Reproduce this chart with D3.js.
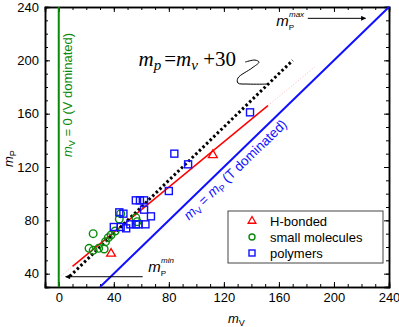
<!DOCTYPE html>
<html>
<head>
<meta charset="utf-8">
<script src="https://cdn.jsdelivr.net/npm/d3@7"></script>
<style>
  body { margin: 0; background: #fff; }
  svg { font-family: Arial, "Liberation Sans", sans-serif; }
</style>
</head>
<body>
<svg id="chart" width="399" height="327"></svg>
<script>
// values
var hBonded = [[38, 55], [112, 129]];
var smallMolecules = [[22, 59], [25, 57.5], [29, 59], [33, 58.5], [34, 64], [36, 67], [38, 69], [41, 72],
	[25, 70], [45, 85], [44, 81], [56, 82], [57, 79]];
var polymers = [[40, 75], [45, 75], [49, 74], [52, 77], [56, 77], [58, 77], [63, 77], [44, 86], [47, 85],
	[56, 95], [59, 95], [62, 95], [62, 88], [67, 83], [80, 102], [84, 130], [94, 122], [139, 161]];
var fitLine = [[10, 45.5], [152, 166]];
var fitExtLow = [[0, 37], [10, 45.5]];
var fitExtHigh = [[152, 166], [186, 195]];
var offsetLine = [[8, 38], [170, 200]];      // m_p = m_v + 30
var equalLine = [[30, 30], [240, 240]];      // m_v = m_p
var xTicks = [0, 40, 80, 120, 160, 200, 240];
var yTicks = [40, 80, 120, 160, 200, 240];
var legendItems = ["H-bonded", "small molecules", "polymers"];
var squiggle = [[135.5, 198.7], [142.6, 200.2], [145.5, 198.7], [140.4, 194.2], [130.2, 186.7],
	[130.2, 183], [137.5, 182.2], [151.3, 182.2]];

var margin = {top: 7, right: 10, bottom: 40, left: 45};
var width = 389 - margin.left, height = 287 - margin.top;

var svg = d3.select("#chart");
var g = svg.append("g").attr("transform", "translate(" + margin.left + "," + margin.top + ")");

var x = d3.scaleLinear().domain([-10, 240]).range([0, width]);
var y = d3.scaleLinear().domain([30, 240]).range([height, 0]);
var line = d3.line().x(function(d) { return x(d[0]); }).y(function(d) { return y(d[1]); });

svg.append("defs").append("marker")
	.attr("id", "arrow")
	.attr("viewBox", "0 0 10 10")
	.attr("refX", 9).attr("refY", 5)
	.attr("markerWidth", 6).attr("markerHeight", 5)
	.attr("markerUnits", "userSpaceOnUse")
	.attr("orient", "auto")
  .append("path").attr("d", "M0,0 L10,5 L0,10 Z").attr("fill", "#000");

// axes: minor + major ticks on all four sides, pointing in
function drawAxis(axisFn, scale, values, size, transform, labels) {
	var a = g.append("g").attr("transform", transform)
		.call(axisFn(scale).tickValues(values).tickSize(size).tickPadding(6)
			.tickFormat(labels ? d3.format("d") : ""));
	a.select(".domain").attr("stroke-width", 1.5);
	a.selectAll("text").attr("font-size", 13).attr("fill", "#000")
		.attr("font-family", "Arial, 'Liberation Sans', sans-serif");
	return a;
}
var xMinor = d3.range(-10, 241, 10), yMinor = d3.range(30, 241, 10);
drawAxis(d3.axisBottom, x, xMinor, -3, "translate(0," + height + ")", false);
drawAxis(d3.axisBottom, x, xTicks, -5, "translate(0," + height + ")", true);
drawAxis(d3.axisTop, x, xMinor, -3, "translate(0,0)", false);
drawAxis(d3.axisTop, x, xTicks, -5, "translate(0,0)", false);
drawAxis(d3.axisLeft, y, yMinor, -3, "translate(0,0)", false);
drawAxis(d3.axisLeft, y, yTicks, -5, "translate(0,0)", true);
drawAxis(d3.axisRight, y, yMinor, -3, "translate(" + width + ",0)", false);
drawAxis(d3.axisRight, y, yTicks, -5, "translate(" + width + ",0)", false);

// reference lines
g.append("line")
	.attr("x1", x(0)).attr("x2", x(0)).attr("y1", y(30)).attr("y2", y(240))
	.attr("stroke", "#0a8a0a").attr("stroke-width", 2);
g.append("path").datum(equalLine).attr("d", line)
	.attr("stroke", "#1010ff").attr("stroke-width", 2).attr("fill", "none");
g.selectAll(".fit-ext").data([fitExtLow, fitExtHigh]).enter().append("path")
	.attr("d", line).attr("stroke", "#f66").attr("stroke-opacity", 0.5)
	.attr("stroke-dasharray", "1,2").attr("fill", "none");
g.append("path").datum(fitLine).attr("d", line)
	.attr("stroke", "#f00").attr("stroke-width", 1.5).attr("fill", "none");
g.append("path").datum(offsetLine).attr("d", line)
	.attr("stroke", "#000").attr("stroke-width", 3).attr("stroke-dasharray", "2.5,2.5").attr("fill", "none");

// data
g.selectAll(".hb").data(hBonded).enter().append("path")
	.attr("transform", function(d) { return "translate(" + x(d[0]) + "," + y(d[1]) + ")"; })
	.attr("d", d3.symbol(d3.symbolTriangle, 34))
	.attr("fill", "none").attr("stroke", "#f00").attr("stroke-width", 1.3);
g.selectAll(".sm").data(smallMolecules).enter().append("circle")
	.attr("cx", function(d) { return x(d[0]); })
	.attr("cy", function(d) { return y(d[1]); })
	.attr("r", 3.8)
	.attr("fill", "none").attr("stroke", "#0a8a0a").attr("stroke-width", 1.4);
g.selectAll(".poly").data(polymers).enter().append("rect")
	.attr("x", function(d) { return x(d[0]) - 3.5; })
	.attr("y", function(d) { return y(d[1]) - 3.5; })
	.attr("width", 7).attr("height", 7)
	.attr("fill", "none").attr("stroke", "#1010ff").attr("stroke-width", 1.4);

// annotations
var formula = g.append("text")
	.attr("x", x(58)).attr("y", y(196.5) + 0.5)
	.style("font-family", "'Times New Roman', 'Liberation Serif', serif")
	.attr("font-size", 21).attr("fill", "#000");
formula.append("tspan").attr("font-style", "italic").text("m");
formula.append("tspan").attr("font-style", "italic").attr("font-size", 15).attr("dy", 4).text("p");
formula.append("tspan").attr("dy", -4).attr("dx", 3).text("=");
formula.append("tspan").attr("font-style", "italic").text("m");
formula.append("tspan").attr("font-style", "italic").attr("font-size", 15).attr("dy", 4).text("v");
formula.append("tspan").attr("dy", -4).text(" +30");

g.append("path").datum(squiggle)
	.attr("d", line.curve(d3.curveCatmullRom.alpha(0.5)))
	.attr("stroke", "#000").attr("stroke-width", 1).attr("fill", "none");
line.curve(d3.curveLinear);

g.append("text")
	.attr("transform", "translate(" + (x(8.7) + 1) + "," + y(174) + ") rotate(-90)")
	.attr("text-anchor", "middle").attr("font-size", 13).attr("fill", "#0a8a0a")
	.call(function(t) {
		t.append("tspan").attr("font-style", "italic").text("m");
		t.append("tspan").attr("font-size", 9).attr("dy", 3).text("V");
		t.append("tspan").attr("dy", -3).text(" = 0 (V dominated)");
	});

g.append("text")
	.attr("transform", "translate(" + x(130.5) + "," + y(115.5) + ") rotate(-44)")
	.attr("text-anchor", "middle").attr("font-size", 13.5).attr("fill", "#1010ff")
	.call(function(t) {
		t.append("tspan").attr("font-style", "italic").text("m");
		t.append("tspan").attr("font-size", 9).attr("dy", 3).text("V");
		t.append("tspan").attr("dy", -3).text(" = ");
		t.append("tspan").attr("font-style", "italic").text("m");
		t.append("tspan").attr("font-size", 9).attr("dy", 3).text("P");
		t.append("tspan").attr("dy", -3).text(" (T dominated)");
	});

// m_p max / min arrows
g.append("line")
	.attr("x1", x(181)).attr("x2", x(223)).attr("y1", y(231.5)).attr("y2", y(231.5))
	.attr("stroke", "#000").attr("stroke-width", 1).attr("marker-end", "url(#arrow)");
g.append("line")
	.attr("x1", x(61)).attr("x2", x(5)).attr("y1", y(37.7)).attr("y2", y(37.7))
	.attr("stroke", "#000").attr("stroke-width", 1).attr("marker-end", "url(#arrow)");

function mpLabel(px, py, sup) {
	var t = g.append("text").attr("x", px).attr("y", py).attr("font-size", 15).attr("fill", "#000");
	t.append("tspan").attr("font-style", "italic").text("m");
	t.append("tspan").attr("font-size", 8).attr("dy", 4).text("P");
	t.append("tspan").attr("font-size", 8).attr("font-style", "italic").attr("dx", -5).attr("dy", -13).text(sup);
}
mpLabel(x(158), y(225.5), "max");
mpLabel(x(65), y(41.5), "min");

// axis titles
svg.append("text").attr("x", 228).attr("y", 323).attr("font-size", 13)
	.call(function(t) {
		t.append("tspan").attr("font-style", "italic").text("m");
		t.append("tspan").attr("font-size", 9).attr("dy", 3).text("V");
	});
svg.append("text").attr("transform", "translate(13,167) rotate(-90)").attr("font-size", 13)
	.call(function(t) {
		t.append("tspan").attr("font-style", "italic").text("m");
		t.append("tspan").attr("font-size", 9).attr("dy", 3).text("P");
	});

// legend
var legend = g.append("g").attr("transform", "translate(" + (228 - margin.left) + "," + (211 - margin.top) + ")");
legend.append("rect").attr("width", 155).attr("height", 52)
	.attr("fill", "#fff").attr("stroke", "#444").attr("stroke-width", 1);
var rows = legend.selectAll(".row").data(legendItems).enter().append("g")
	.attr("transform", function(d, i) { return "translate(24," + (10 + i * 16) + ")"; });
rows.filter(function(d, i) { return i === 0; }).append("path")
	.attr("d", d3.symbol(d3.symbolTriangle, 26))
	.attr("fill", "none").attr("stroke", "#f00").attr("stroke-width", 1.3);
rows.filter(function(d, i) { return i === 1; }).append("circle")
	.attr("r", 3).attr("fill", "none").attr("stroke", "#0a8a0a").attr("stroke-width", 1.4);
rows.filter(function(d, i) { return i === 2; }).append("rect")
	.attr("x", -3).attr("y", -3).attr("width", 6).attr("height", 6)
	.attr("fill", "none").attr("stroke", "#1010ff").attr("stroke-width", 1.4);
rows.append("text").attr("x", 18).attr("dy", "0.36em").attr("font-size", 13).text(function(d) { return d; });
</script>
</body>
</html>
